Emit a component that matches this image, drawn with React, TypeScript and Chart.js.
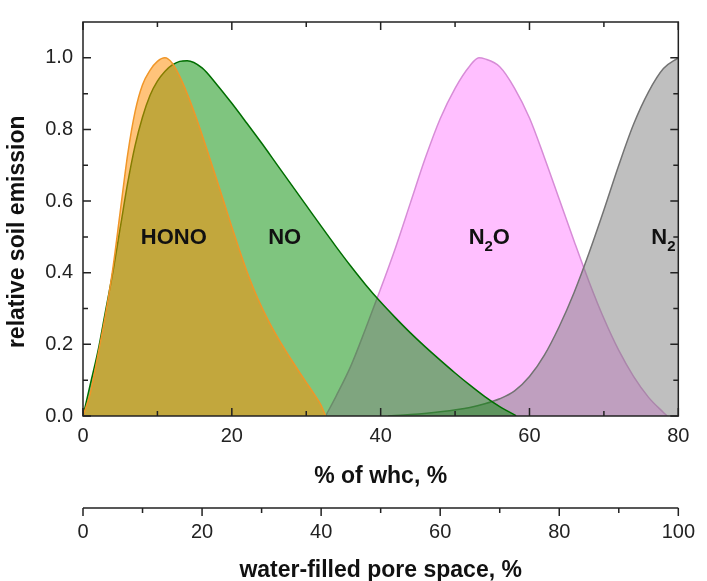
import React, { useEffect, useRef } from 'react';
import { Chart, registerables } from 'chart.js';

Chart.register(...registerables);

// ---- data ----
const HONO_X = [0, 1, 2, 3, 4, 5, 6, 7, 8, 9, 10, 11, 12, 13, 14, 15, 16, 17, 18, 19, 20, 21, 22, 23, 24, 25, 26, 27, 28, 29, 30, 31, 32, 32.6];
const HONO_Y = [0, 0.065, 0.17, 0.28, 0.41, 0.57, 0.73, 0.85, 0.925, 0.965, 0.99, 1.0, 0.985, 0.948, 0.9, 0.845, 0.785, 0.722, 0.658, 0.593, 0.528, 0.465, 0.405, 0.352, 0.305, 0.263, 0.225, 0.19, 0.157, 0.125, 0.094, 0.063, 0.03, 0];

const NO_X = [0, 1, 2, 3, 4, 5, 6, 7, 8, 9, 10, 11, 12, 13, 14, 16, 18, 20, 22, 24, 26, 28, 30, 32, 34, 36, 38, 40, 42, 44, 46, 48, 50, 52, 54, 56, 58, 58.2];
const NO_Y = [0, 0.09, 0.18, 0.29, 0.4, 0.525, 0.65, 0.755, 0.835, 0.895, 0.935, 0.962, 0.98, 0.99, 0.992, 0.972, 0.925, 0.873, 0.818, 0.762, 0.704, 0.646, 0.588, 0.53, 0.473, 0.418, 0.366, 0.318, 0.274, 0.232, 0.193, 0.156, 0.12, 0.086, 0.054, 0.026, 0.003, 0];

const N2O_X = [32.6, 34, 36, 38, 40, 42, 44, 46, 48, 50, 52, 53.2, 54, 56, 58, 60, 62, 64, 66, 68, 70, 72, 74, 76, 78, 78.5];
const N2O_Y = [0, 0.055, 0.14, 0.245, 0.355, 0.47, 0.595, 0.72, 0.83, 0.915, 0.978, 1.0, 0.997, 0.975, 0.915, 0.832, 0.722, 0.605, 0.488, 0.375, 0.272, 0.183, 0.11, 0.052, 0.01, 0];

const N2_X = [41, 44, 48, 52, 54, 56, 58, 60, 62, 64, 66, 68, 70, 72, 74, 76, 78, 80];
const N2_Y = [0, 0.004, 0.012, 0.024, 0.034, 0.048, 0.07, 0.11, 0.17, 0.25, 0.345, 0.455, 0.575, 0.7, 0.815, 0.905, 0.97, 1.0];

// tick values
const X_TICKS = [0, 20, 40, 60, 80];
const X_MINOR = [10, 30, 50, 70];
const X2_TICKS = [0, 20, 40, 60, 80, 100];
const X2_MINOR = [10, 30, 50, 70, 90];
const Y_TICKS = [0, 0.2, 0.4, 0.6, 0.8, 1.0];
const Y_MINOR = [0.1, 0.3, 0.5, 0.7, 0.9];

// curve labels (data coordinates)
const CURVE_LABELS = [
  { main: 'HONO', sub: '', tail: '', x: 12.2, y: 0.5 },
  { main: 'NO', sub: '', tail: '', x: 27.1, y: 0.5 },
  { main: 'N', sub: '2', tail: 'O', x: 54.6, y: 0.5 },
  { main: 'N', sub: '2', tail: '', x: 78.0, y: 0.5 },
];

const FONT = "'Liberation Sans', Arial, Helvetica, sans-serif";
const AXIS_COLOR = '#222';

const zip = (xs: number[], ys: number[]) => xs.map((x, i) => ({ x, y: ys[i] }));

const decorPlugin = {
  id: 'decor',
  afterDraw(chart: any) {
    const { ctx, chartArea: a, scales } = chart;
    const x = scales.x, y = scales.y, x2 = scales.x2;
    ctx.save();
    ctx.strokeStyle = AXIS_COLOR;
    ctx.lineWidth = 1.5;
    ctx.strokeRect(a.left, a.top, a.right - a.left, a.bottom - a.top);
    ctx.beginPath();
    const xt = (v: number, len: number) => {
      const p = x.getPixelForValue(v);
      ctx.moveTo(p, a.bottom); ctx.lineTo(p, a.bottom - len);
      ctx.moveTo(p, a.top); ctx.lineTo(p, a.top + len);
    };
    X_TICKS.forEach(v => xt(v, 8));
    X_MINOR.forEach(v => xt(v, 5));
    const yt = (v: number, len: number) => {
      const p = y.getPixelForValue(v);
      ctx.moveTo(a.left, p); ctx.lineTo(a.left + len, p);
      ctx.moveTo(a.right, p); ctx.lineTo(a.right - len, p);
    };
    Y_TICKS.forEach(v => yt(v, 8));
    Y_MINOR.forEach(v => yt(v, 5));
    // second axis
    const top2 = x2.top;
    ctx.moveTo(x2.getPixelForValue(0), top2);
    ctx.lineTo(x2.getPixelForValue(100), top2);
    const x2t = (v: number, len: number) => {
      const p = x2.getPixelForValue(v);
      ctx.moveTo(p, top2); ctx.lineTo(p, top2 + len);
    };
    X2_TICKS.forEach(v => x2t(v, 8));
    X2_MINOR.forEach(v => x2t(v, 5));
    ctx.stroke();

    // curve labels
    ctx.fillStyle = '#111';
    ctx.textBaseline = 'alphabetic';
    ctx.textAlign = 'left';
    const bigFont = `bold 22px ${FONT}`;
    const subFont = `bold 15px ${FONT}`;
    CURVE_LABELS.forEach(l => {
      ctx.font = bigFont;
      const wMain = ctx.measureText(l.main).width;
      const wTail = l.tail ? ctx.measureText(l.tail).width : 0;
      ctx.font = subFont;
      const wSub = l.sub ? ctx.measureText(l.sub).width : 0;
      const total = wMain + wSub + wTail;
      const cx = x.getPixelForValue(l.x);
      const cy = y.getPixelForValue(l.y);
      const base = cy + 7;
      let px = cx - total / 2;
      ctx.font = bigFont;
      ctx.fillText(l.main, px, base);
      px += wMain;
      if (l.sub) {
        ctx.font = subFont;
        ctx.fillText(l.sub, px, base + 7);
        px += wSub;
      }
      if (l.tail) {
        ctx.font = bigFont;
        ctx.fillText(l.tail, px, base);
      }
    });
    ctx.restore();
  },
};

export default function App() {
  const ref = useRef<HTMLCanvasElement | null>(null);
  useEffect(() => {
    if (!ref.current) return;
    const tickFont = { family: FONT, size: 20 };
    const titleFont = { family: FONT, size: 23, weight: 'bold' as const };
    const ds = (label: string, xs: number[], ys: number[], border: string, fillc: string) => ({
      label, data: zip(xs, ys), borderColor: border, backgroundColor: fillc,
      fill: 'origin', borderWidth: 1.5, pointRadius: 0, cubicInterpolationMode: 'monotone',
    });
    const chart = new Chart(ref.current, {
      type: 'line',
      data: {
        datasets: [
          ds('HONO', HONO_X, HONO_Y, 'rgb(240,150,40)', 'rgba(255,140,0,0.52)'),
          ds('NO', NO_X, NO_Y, 'rgb(0,110,0)', 'rgba(0,140,0,0.5)'),
          ds('N2', N2_X, N2_Y, 'rgb(115,115,115)', 'rgba(128,128,128,0.5)'),
          ds('N2O', N2O_X, N2O_Y, 'rgb(215,140,215)', 'rgba(255,0,255,0.25)'),
        ] as any,
      },
      options: {
        responsive: false,
        animation: false,
        layout: { padding: { left: 0, top: 16, right: 18, bottom: 0 } },
        plugins: { legend: { display: false }, tooltip: { enabled: false } },
        scales: {
          x: {
            type: 'linear', position: 'bottom', weight: 1, min: 0, max: 80,
            afterBuildTicks: (s: any) => { s.ticks = X_TICKS.map(v => ({ value: v })); },
            afterFit: (s: any) => { s.height = 92; },
            grid: { display: false, drawTicks: false }, border: { display: false },
            ticks: { padding: 8, font: tickFont, color: AXIS_COLOR, maxRotation: 0, autoSkip: false, callback: (v: any) => String(v) },
            title: { display: true, text: '% of whc, %', font: titleFont, color: '#111', padding: { top: 0, bottom: 18 } },
          },
          x2: {
            type: 'linear', position: 'bottom', weight: 2, min: 0, max: 100,
            afterBuildTicks: (s: any) => { s.ticks = X2_TICKS.map(v => ({ value: v })); },
            afterFit: (s: any) => { s.height = 73; },
            grid: { display: false, drawTicks: false }, border: { display: false },
            ticks: { padding: 12, font: tickFont, color: AXIS_COLOR, maxRotation: 0, autoSkip: false, callback: (v: any) => String(v) },
            title: { display: true, text: 'water-filled pore space, %', font: titleFont, color: '#111', padding: { top: 0, bottom: -3 } },
          },
          y: {
            type: 'linear', position: 'left', min: 0, max: 1.1,
            afterBuildTicks: (s: any) => { s.ticks = Y_TICKS.map(v => ({ value: v })); },
            afterFit: (s: any) => { s.width = 83; },
            grid: { display: false, drawTicks: false }, border: { display: false },
            ticks: { padding: 10, font: tickFont, color: AXIS_COLOR, autoSkip: false, callback: (v: any) => Number(v).toFixed(1) },
            title: { display: true, text: 'relative soil emission    ', font: titleFont, color: '#111', padding: { top: 4, bottom: 0 } },
          },
        } as any,
      },
      plugins: [decorPlugin],
    });
    return () => chart.destroy();
  }, []);
  return (
    <div style={{ position: 'absolute', left: 0, top: 0, width: 707, height: 581, background: '#fff' }}>
      <canvas ref={ref} width={707} height={581} style={{ display: 'block', width: 707, height: 581 }} />
    </div>
  );
}
